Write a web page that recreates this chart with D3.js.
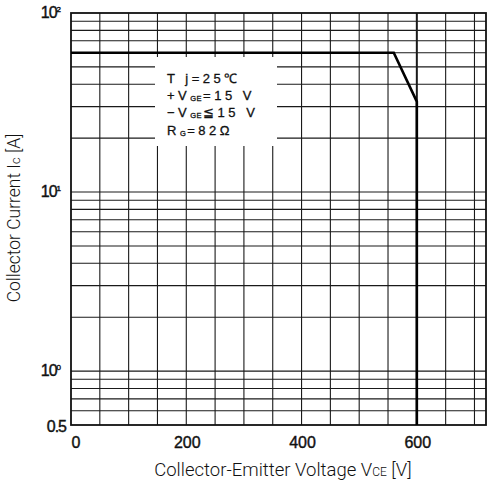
<!DOCTYPE html>
<html>
<head>
<meta charset="utf-8">
<script src="https://cdn.jsdelivr.net/npm/d3@7"></script>
<style>
  body { margin: 0; background: #fff; }
  svg { display: block; }
  .tick-lbl { font-family: "Liberation Sans", Arial, sans-serif; font-size: 16px; fill: #111; stroke: #111; stroke-width: 0.4px; }
  .title { font-family: Roboto, "Liberation Sans", sans-serif; font-weight: 300; font-size: 18.5px; fill: #111; }
  .note { font-family: "Liberation Sans", Arial, sans-serif; font-size: 13px; fill: #111; stroke: #111; stroke-width: 0.3px; letter-spacing: 3.5px; }
</style>
</head>
<body>
<script>
// x axis (collector-emitter voltage, V)
var x_ticks = [0, 200, 400, 600];
var x_grid = [50, 100, 150, 200, 250, 300, 350, 400, 450, 500, 550, 600, 650, 700];
// y axis (collector current, A), log scale
var y_ticks = [100, 10, 1, 0.5];
var y_tick_base = ['10', '10', '10', '0.5'];
var y_tick_exp = ['2', '1', '0', ''];
var y_grid = [0.6, 0.7, 0.8, 0.9, 1, 2, 3, 4, 5, 6, 7, 8, 9, 10, 20, 30, 40, 50, 60, 70, 80, 90];
// RBSOA boundary
var soa_v = [0, 560, 600, 600];
var soa_i = [60, 60, 32, 0.5];
// conditions
var notes = [
  ['T j=25℃'],
  ['+V', 'GE', '=15 V'],
  ['−V', 'GE', '≦15 V'],
  ['R', 'G', '=82Ω']
];

var width = 491, height = 488;
var pad_l = 71, pad_r = 486, pad_t = 13, pad_b = 425;

var svg = d3.select('body').append('svg').attr('width', width).attr('height', height);

var x = d3.scaleLinear().domain([0, 720]).range([pad_l, pad_r]);
var y = d3.scaleLog().domain([0.5, 100]).range([pad_b, pad_t]);

var grid = svg.append('g').attr('stroke', '#1a1a1a').attr('stroke-width', 1.1);
grid.selectAll('.vg').data(x_grid).enter().append('line')
    .attr('x1', d => x(d)).attr('x2', d => x(d))
    .attr('y1', pad_t).attr('y2', pad_b)
    .attr('stroke-width', d => d == 600 ? 2 : 1.1);
grid.selectAll('.hg').data(y_grid).enter().append('line')
    .attr('x1', pad_l).attr('x2', pad_r)
    .attr('y1', d => y(d)).attr('y2', d => y(d));

// frame
svg.append('rect').attr('x', pad_l).attr('y', pad_t)
    .attr('width', pad_r - pad_l).attr('height', pad_b - pad_t)
    .attr('fill', 'none').attr('stroke', '#111').attr('stroke-width', 1.8);

// white box for the conditions text
svg.append('rect').attr('x', 155).attr('y', 57).attr('width', 122).attr('height', 89).attr('fill', '#fff');

var line = d3.line().x(d => x(d[0])).y(d => y(d[1]));
svg.append('path')
    .datum(soa_v.map((v, i) => [v, soa_i[i]]))
    .attr('d', line)
    .attr('fill', 'none').attr('stroke', '#000').attr('stroke-width', 2.6)
    .attr('stroke-linejoin', 'miter');

// condition text
var note_y = [83, 100, 117, 135];
notes.forEach(function(n, i) {
  var t = svg.append('text').attr('class', 'note').attr('x', 167).attr('y', note_y[i]);
  t.append('tspan').text(n[0]);
  if (n.length > 2) {
    t.append('tspan').attr('font-size', '7.5px').attr('letter-spacing', '0.5px').attr('dy', 1).text(n[1]);
    t.append('tspan').attr('dy', -1).attr('dx', 1).text(n[2]);
  }
});

// y tick labels
y_ticks.forEach(function(v, i) {
  var t = svg.append('text').attr('class', 'tick-lbl')
      .attr('x', y_tick_exp[i] ? 60 : 66).attr('y', y(v) + (y_tick_exp[i] ? 5 : 7))
      .attr('text-anchor', 'end').attr('letter-spacing', '-1px');
  t.append('tspan').text(y_tick_base[i]);
  if (y_tick_exp[i]) t.append('tspan').attr('font-size', '8px').attr('dy', -6).text(y_tick_exp[i]);
});

// x tick labels
svg.selectAll('.xl').data(x_ticks).enter().append('text')
    .attr('class', 'tick-lbl')
    .attr('x', d => d == 0 ? x(d) + 5 : x(d) + 1).attr('y', 448)
    .attr('text-anchor', 'middle')
    .text(d => d);

// axis titles
var xt = svg.append('text').attr('class', 'title').attr('x', 283).attr('y', 476).attr('text-anchor', 'middle');
xt.append('tspan').text('Collector-Emitter Voltage V');
xt.append('tspan').attr('font-size', '12px').text('CE');
xt.append('tspan').text(' [V]');

var yt = svg.append('text').attr('class', 'title').style('font-size', '17.5px')
    .attr('transform', 'translate(20,218) rotate(-90)').attr('text-anchor', 'middle');
yt.append('tspan').text('Collector Current I');
yt.append('tspan').attr('font-size', '13px').text('c');
yt.append('tspan').text(' [A]');
</script>
</body>
</html>
